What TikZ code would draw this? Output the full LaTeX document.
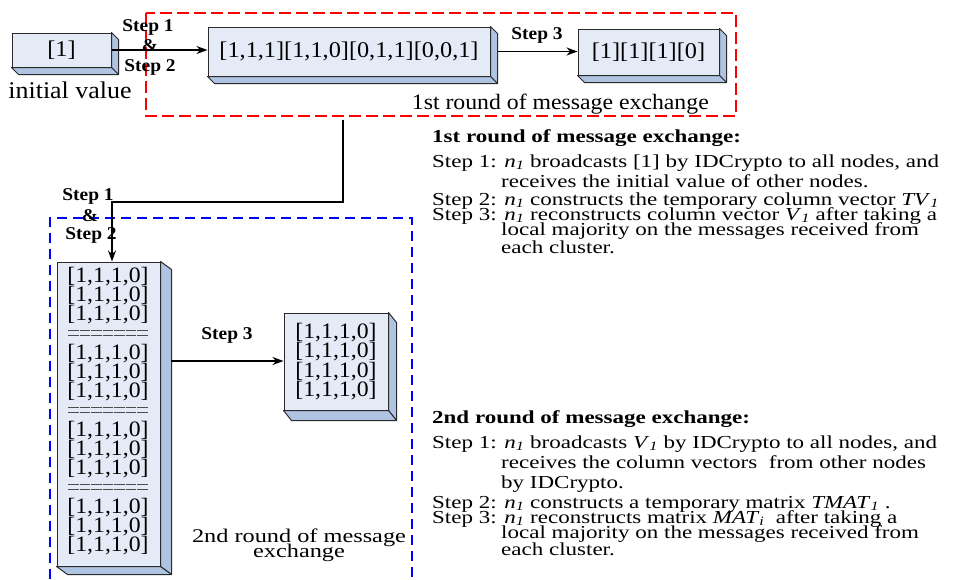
\documentclass[tikz,border=0pt]{standalone}
\usepackage{fontspec}
\usepackage{graphicx}
\setmainfont{Liberation Serif}[FakeStretch=1.08]
\usetikzlibrary{arrows.meta,calc}
\definecolor{facefront}{HTML}{E4EAF6}
\definecolor{faceside}{HTML}{AFC3E3}
\definecolor{edgecol}{HTML}{2A2A2A}
\definecolor{redbox}{HTML}{FF0000}
\definecolor{bluebox}{HTML}{0000FF}
\newcommand\nsub[2]{\textit{#1}\textsubscript{\textit{#2}}}
\newcommand\sq[1]{\scalebox{1}[0.86]{#1}}
\newcommand\extrude[3]{%
  \path[sideface] (#1.north east) -- ++(#2,#3) -- ($(#1.south east)+(#2,#3)$) -- (#1.south east) -- cycle;
  \path[sideface] (#1.south west) -- (#1.south east) -- ++(#2,#3) -- ($(#1.south west)+(#2,#3)$) -- cycle;
}
\tikzset{
  frontface/.style={draw=edgecol, fill=facefront, line width=1pt, inner sep=0pt, font=\fontsize{22.5}{22.5}\selectfont},
  sideface/.style={draw=edgecol, fill=faceside, line width=1pt, line join=round},
  conn/.style={line width=1.4pt, -{Stealth[length=11pt,width=8pt]}},
  steplbl/.style={font=\bfseries\fontsize{18}{18}\selectfont, inner sep=0pt},
  rowtxt/.style={font=\fontsize{22}{22}\selectfont, inner sep=0pt},
  desc/.style={font=\fontsize{21.3}{21.3}\selectfont, inner sep=0pt, anchor=base west},
  headtxt/.style={font=\bfseries\fontsize{21.3}{21.3}\selectfont, inner sep=0pt, anchor=base west},
  sepline/.style={draw=gray!60!black, line width=1pt, dash pattern=on 10.5pt off 1pt},
  lbltxt/.style={inner sep=0pt, anchor=base},
}
\begin{document}
\begin{tikzpicture}[x=1pt,y=-1pt]
\useasboundingbox (0,0) rectangle (967,579);

% dashed round frames
\draw[redbox, line width=1.3pt, dash pattern=on 12pt off 5pt] (146,13) rectangle (736,116);
\draw[bluebox, line width=1.3pt, dash pattern=on 10pt off 6pt] (50,579) -- (50,218) -- (412,218) -- (412,579);

% boxes
\node[frontface, minimum width=99pt, minimum height=34pt] (init) at (61.5,50) {[1]};
\extrude{init}{7}{7}
\node[frontface, minimum width=282pt, minimum height=49pt] (tv) at (349,51.5) {[1,1,1][1,1,0][0,1,1][0,0,1]};
\extrude{tv}{7}{7}
\node[frontface, minimum width=141pt, minimum height=46pt] (v1) at (648.5,52) {[1][1][1][0]};
\extrude{v1}{7}{7}
\node[frontface, minimum width=103pt, minimum height=304pt] (tmat) at (108.5,414) {};
\extrude{tmat}{11}{8}
\node[frontface, minimum width=104pt, minimum height=97pt] (mat) at (336,361.5) {};
\extrude{mat}{8}{10}

% contents of the big box
\foreach \g in {0,...,3}{
  \foreach \r in {0,1,2}{
    \node[rowtxt] (c\g\r) at (108,{277+77*\g+19*\r}) {[1,1,1,0]};
  }
}
\foreach \g in {0,1,2}{
  \draw[sepline] (68,{330+77*\g}) -- (148,{330+77*\g});
  \draw[sepline] (68,{335+77*\g}) -- (148,{335+77*\g});
}
% contents of the small box
\foreach \r in {0,...,3}{
  \node[rowtxt] (m\r) at (336,{332.25+19.5*\r}) {[1,1,1,0]};
}

% labels in the diagram
\node[lbltxt, font=\fontsize{24}{24}\selectfont] (ivlbl) at (70,98) {initial value};
\node[lbltxt, anchor=base east, font=\fontsize{22}{22}\selectfont] (r1lbl) at (709,109) {1st round of message exchange};
\node[lbltxt, font=\fontsize{22.5}{22.5}\selectfont] (r2lbla) at (299,542) {\sq{2nd round of message}};
\node[lbltxt, font=\fontsize{22.5}{22.5}\selectfont] (r2lblb) at (299,557) {\sq{exchange}};

% connectors
\draw[conn] (init.east) -- (init.east -| tv.west);
\node[steplbl] (s1a) at (148,27) {Step 1};
\node[steplbl] (ampa) at (150,46) {\&};
\node[steplbl] (s2a) at (150,67) {Step 2};

\coordinate (tvside) at ($(tv.east)+(7,0)$);
\draw[conn] (tvside) -- (tvside -| v1.west);
\node[steplbl] (s3a) at (537,35) {Step 3};

\coordinate (r1out) at (343,120);
\coordinate (bend) at (112,202);
\draw[conn] (r1out) |- (bend) -- (bend |- tmat.north);
\node[steplbl] (s1b) at (88,196) {Step 1};
\node[steplbl] (ampb) at (90,216) {\&};
\node[steplbl] (s2b) at (91,235) {Step 2};

\coordinate (tmside) at (171,361);
\draw[conn] (tmside) -- (tmside -| mat.west);
\node[steplbl] (s3b) at (227,335) {Step 3};

% description, round 1
\node[headtxt] (h1) at (432,142) {\sq{1st round of message exchange:}};
\node[desc] (a1) at (432,167) {\sq{Step 1: \nsub{n}{1} broadcasts [1] by IDCrypto to all nodes, and}};
\node[desc] (a1b) at (501,187) {\sq{receives the initial value of other nodes.}};
\node[desc] (a2) at (432,205) {\sq{Step 2: \nsub{n}{1} constructs the temporary column vector \nsub{TV}{1}}};
\node[desc] (a3) at (432,220) {\sq{Step 3: \nsub{n}{1} reconstructs column vector \nsub{V}{1} after taking a}};
\node[desc] (a3b) at (501,235) {\sq{local majority on the messages received from}};
\node[desc] (a3c) at (501,253) {\sq{each cluster.}};

% description, round 2
\node[headtxt] (h2) at (432,423) {\sq{2nd round of message exchange:}};
\node[desc] (b1) at (432,448) {\sq{Step 1: \nsub{n}{1} broadcasts \nsub{V}{1} by IDCrypto to all nodes, and}};
\node[desc] (b1b) at (501,468) {\sq{receives the column vectors\ \ from other nodes}};
\node[desc] (b1c) at (501,488) {\sq{by IDCrypto.}};
\node[desc] (b2) at (432,508) {\sq{Step 2: \nsub{n}{1} constructs a temporary matrix \nsub{TMAT}{1} .}};
\node[desc] (b3) at (432,523) {\sq{Step 3: \nsub{n}{1} reconstructs matrix \nsub{MAT}{i}\ \ after taking a}};
\node[desc] (b3b) at (501,538) {\sq{local majority on the messages received from}};
\node[desc] (b3c) at (501,555) {\sq{each cluster.}};
\end{tikzpicture}
\end{document}
